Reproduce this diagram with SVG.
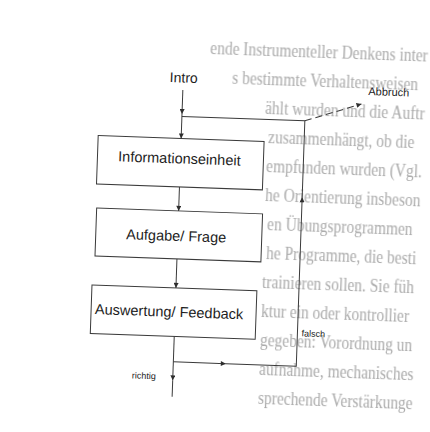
<svg xmlns="http://www.w3.org/2000/svg" width="430" height="432" viewBox="0 0 430 432">
  <defs>
    <style>
      .page { font-family: "Liberation Serif", "Times New Roman", serif; font-size: 18px; fill: #ababab; }
      .box { fill: none; stroke: #3a3a3a; stroke-width: 1; }
      .lbl { font-family: "Liberation Sans", Arial, sans-serif; font-size: 14.5px; fill: #1e1e1e; text-anchor: middle; }
      .small { font-family: "Liberation Sans", Arial, sans-serif; fill: #222; text-anchor: middle; }
      .edge { fill: none; stroke: #3a3a3a; stroke-width: 1; }
      .dash { stroke-dasharray: 7 4; }
    </style>
    <filter id="soft" x="-5%" y="-5%" width="110%" height="110%">
      <feGaussianBlur stdDeviation="0.5"/>
    </filter>
    <marker id="ah" viewBox="0 0 10 10" refX="10" refY="5" markerWidth="6" markerHeight="5" markerUnits="userSpaceOnUse" orient="auto">
      <path d="M0,0 L10,5 L0,10 z" fill="#2e2e2e"/>
    </marker>
  </defs>

  <rect width="430" height="432" fill="#ffffff"/>

  <g transform="rotate(2 180 200)">
    <!-- printed page text behind the flowchart -->
    <g id="page-text" class="page" filter="url(#soft)" transform="translate(180 0) scale(0.86 1) translate(-180 0)">
      <text x="209.1" y="53">ende Instrumenteller Denkens inter</text>
      <text x="235.8" y="82">s bestimmte Verhaltensweisen</text>
      <text x="275.3" y="111">ählt wurden und die Auftr</text>
      <text x="280" y="140">zusammenhängt, ob die</text>
      <text x="278.8" y="169">empfunden wurden (Vgl.</text>
      <text x="278.8" y="198">he Orientierung insbeson</text>
      <text x="282.3" y="227">en Übungsprogrammen</text>
      <text x="282.3" y="256">he Programme, die besti</text>
      <text x="278.8" y="285">trainieren sollen. Sie füh</text>
      <text x="278.8" y="314">ktur ein oder kontrollier</text>
      <text x="278.8" y="343">gegeben: Vorordnung un</text>
      <text x="278.8" y="372">aufnahme, mechanisches</text>
      <text x="278.8" y="401">sprechende Verstärkunge</text>
    </g>

    <!-- connectors -->
    <g id="connectors">
      <path class="edge" d="M179,90 L179,114" marker-end="url(#ah)"/>
      <path class="edge" d="M179,114 L179,138.5" marker-end="url(#ah)"/>
      <path class="edge" d="M179,187 L179,211" marker-end="url(#ah)"/>
      <path class="edge" d="M179,259 L179,288" marker-end="url(#ah)"/>
      <path class="edge" d="M179,336.5 L179,380.5" marker-end="url(#ah)"/>
      <path class="edge" d="M179,380.5 L179,397"/>
      <path class="edge" d="M179,362 L231.5,362" marker-end="url(#ah)"/>
      <path class="edge" d="M231.5,362 L302,362 L302,193" marker-end="url(#ah)"/>
      <path class="edge" d="M302,193 L302,116.5 L179,116.5"/>
      <path class="edge dash" d="M302,116.5 L358,97.7" marker-end="url(#ah)"/>
    </g>

    <!-- nodes -->
    <g id="intro">
      <text class="lbl" x="179.5" y="82.5" style="font-size:14px">Intro</text>
    </g>
    <g id="abbruch">
      <text class="small" x="385" y="88.5" style="font-size:11px">Abbruch</text>
    </g>
    <g id="informationseinheit">
      <rect class="box" x="96" y="138.5" width="166" height="48.5"/>
      <text class="lbl" x="178" y="163.5">Informationseinheit</text>
    </g>
    <g id="aufgabe-frage">
      <rect class="box" x="97" y="211" width="166" height="48"/>
      <text class="lbl" x="177.5" y="241">Aufgabe/ Frage</text>
    </g>
    <g id="auswertung-feedback">
      <rect class="box" x="95" y="288" width="165" height="48.5"/>
      <text class="lbl" x="173" y="317">Auswertung/ Feedback</text>
    </g>
    <g id="falsch">
      <text class="small" x="318" y="332" style="font-size:9px">falsch</text>
    </g>
    <g id="richtig">
      <text class="small" x="150" y="380" style="font-size:9px">richtig</text>
    </g>
  </g>
</svg>
